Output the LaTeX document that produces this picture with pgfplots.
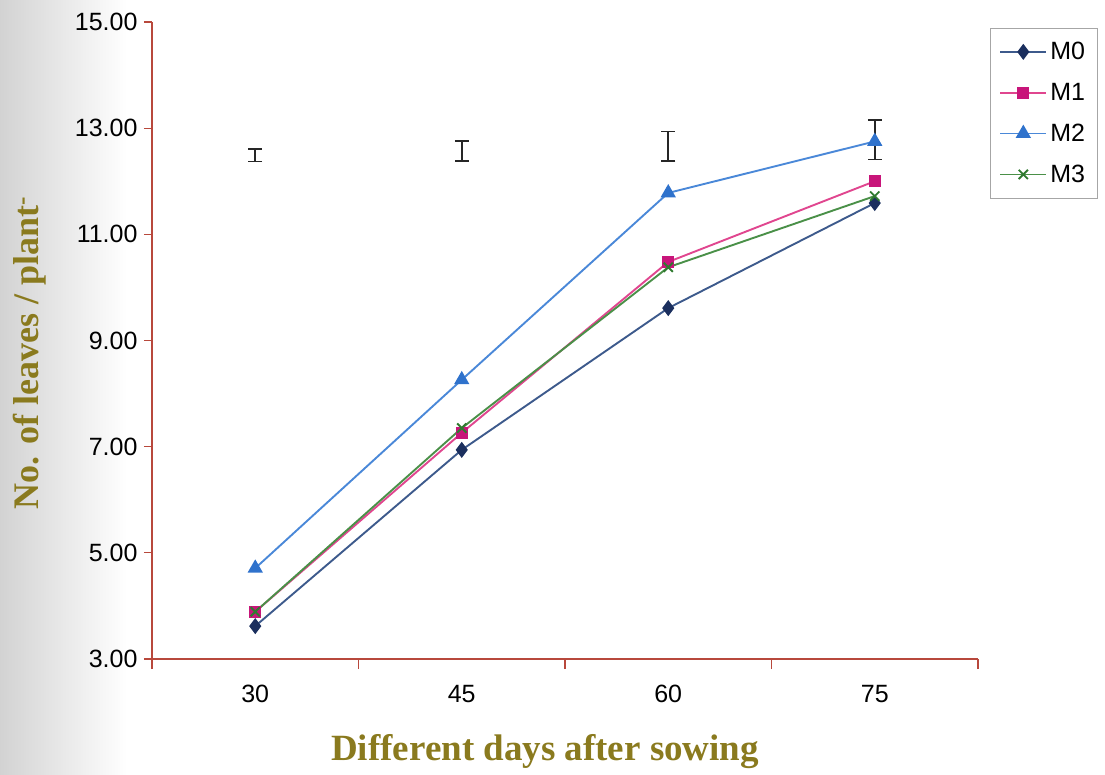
\documentclass[border=0pt]{standalone}
\usepackage{pgfplots}
\pgfplotsset{compat=1.18}
\usepackage{fontspec}
\setmainfont{Liberation Sans}
\newfontfamily\serifb{Liberation Serif}
\definecolor{axred}{HTML}{B8483C}
\definecolor{labcol}{HTML}{8A7A1E}
\definecolor{mzero}{HTML}{1B2F5E}
\definecolor{mzeroline}{HTML}{3D5A8C}
\definecolor{mone}{HTML}{C8157A}
\definecolor{moneline}{HTML}{E0468F}
\definecolor{mtwo}{HTML}{2F72CC}
\definecolor{mtwoline}{HTML}{4A88D8}
\definecolor{mthree}{HTML}{2F7A2F}
\definecolor{mthreeline}{HTML}{4A9048}
\begin{document}
\begin{tikzpicture}
\shade[left color=gray!35, right color=white] (-152pt,-115pt) rectangle (-25pt,659pt);
\begin{axis}[
  at={(0,0)}, anchor=south west,
  scale only axis, width=826pt, height=637pt,
  xmin=-0.5, xmax=3.5, ymin=3, ymax=15,
  axis x line*=bottom, axis y line*=left,
  axis line style={axred, line width=1.2pt, -},
  xtick={0,1,2,3}, xticklabels={30,45,60,75},
  major x tick style={draw=none},
  minor xtick={-0.5,0.5,1.5,2.5,3.5},
  minor tick length=10pt,
  minor x tick style={axred, line width=1.2pt},
  ytick={3,5,7,9,11,13,15},
  /pgf/number format/fixed,
  /pgf/number format/fixed zerofill,
  /pgf/number format/precision=2,
  /pgf/number format/assume math mode=true,
  y tick style={axred, line width=1.2pt},
  major tick length=8pt,
  tick align=outside,
  ticklabel style={font=\fontsize{25}{28}\selectfont, black},
  xticklabel style={yshift=-15pt},
  yticklabel style={xshift=-3pt},
  xlabel={Different days after sowing},
  ylabel={No. of leaves / plant\textsuperscript{-}},
  xlabel style={font=\serifb\bfseries\fontsize{37}{40}\selectfont, labcol, at={(axis description cs:0.476,0)}, anchor=center, yshift=-93pt},
  ylabel style={font=\serifb\bfseries\fontsize{36}{40}\selectfont, labcol, at={(axis description cs:-0.148,0.48)}, anchor=center},
  legend style={at={(axis description cs:1.0145,0.9906)}, anchor=north west,
    font=\fontsize{25}{28}\selectfont, draw=gray!70, fill=white, line width=0.8pt,
    row sep=18pt, inner xsep=9pt, inner ysep=12pt,
    nodes={inner xsep=3pt}},
  legend image code/.code={\draw[#1, mark repeat=2, mark phase=2] plot coordinates {(0pt,0pt) (23pt,0pt) (46pt,0pt)};},
  legend cell align=left,
  clip=false,
]
\addplot[mzeroline, line width=1.9pt, mark=diamond*, mark size=6.5pt, mark options={mzero, fill=mzero, solid}] coordinates {(0,3.62) (1,6.94) (2,9.61) (3,11.59)};
\addlegendentry{M0}
\addplot[moneline, line width=1.9pt, mark=square*, mark size=5pt, mark options={mone, fill=mone, solid}] coordinates {(0,3.89) (1,7.26) (2,10.48) (3,12.00)};
\addlegendentry{M1}
\addplot[mtwoline, line width=1.9pt, mark=triangle*, mark size=7pt, mark options={mtwo, fill=mtwo, solid}] coordinates {(0,4.71) (1,8.26) (2,11.78) (3,12.75)};
\addlegendentry{M2}
\addplot[mthreeline, line width=1.9pt, mark=x, mark size=6.5pt, mark options={mthree, line width=1.9pt, solid}] coordinates {(0,3.89) (1,7.35) (2,10.38) (3,11.72)};
\addlegendentry{M3}
\addplot[draw=none, mark=none, forget plot,
  error bars/.cd, y dir=both, y explicit,
  error bar style={black!85, line width=1.6pt},
  error mark options={rotate=90, mark size=7pt, black!85, line width=1.6pt}]
  coordinates {(0,12.49) +- (0,0.12) (1,12.57) +- (0,0.19) (2,12.66) +- (0,0.28) (3,12.78) +- (0,0.37)};
\end{axis}
\path[use as bounding box] (-152pt,-115pt) rectangle (953pt,659pt);
\end{tikzpicture}
\end{document}
